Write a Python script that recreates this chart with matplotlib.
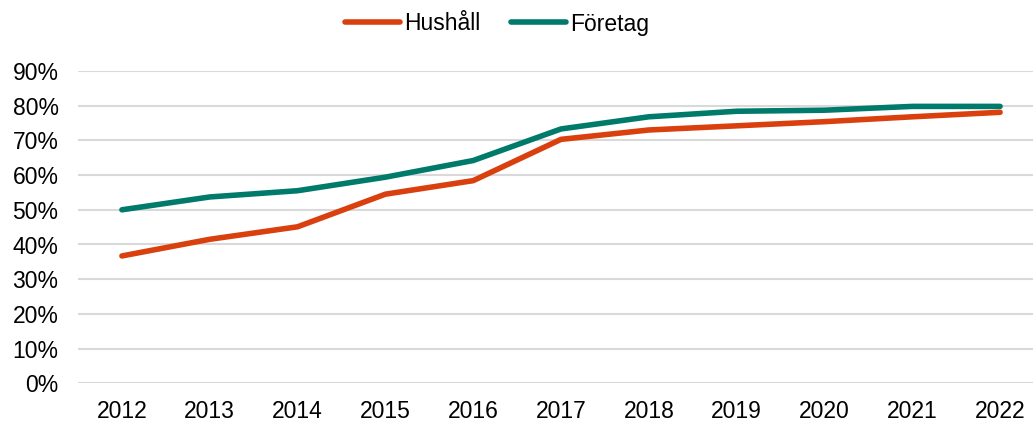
import matplotlib
matplotlib.use("Agg")
import matplotlib.pyplot as plt
from matplotlib.ticker import PercentFormatter

plt.rcParams['font.family'] = ['Liberation Sans', 'DejaVu Sans']

years = ["2012", "2013", "2014", "2015", "2016", "2017", "2018", "2019", "2020", "2021", "2022"]
hushall = [0.367, 0.415, 0.451, 0.545, 0.584, 0.703, 0.730, 0.742, 0.754, 0.768, 0.781]
foretag = [0.500, 0.537, 0.555, 0.594, 0.642, 0.733, 0.768, 0.784, 0.787, 0.798, 0.798]
yticks = [0.0, 0.1, 0.2, 0.3, 0.4, 0.5, 0.6, 0.7, 0.8, 0.9]

W, H = 1033, 423
fig = plt.figure(figsize=(W / 100, H / 100), dpi=100)
left, right = 78, 1044
bottom, top = 383.3, 71
ax = fig.add_axes([left / W, (H - bottom) / H, (right - left) / W, (bottom - top) / H])

x = list(range(len(years)))
ax.plot(x, hushall, color="#D9400E", lw=4, solid_capstyle="round", label="Hushåll", zorder=3)
ax.plot(x, foretag, color="#007A6A", lw=4, solid_capstyle="round", label="Företag", zorder=3)

ax.set_xlim(-0.5, len(years) - 0.5)
ax.set_ylim(0, 0.9)
ax.set_xticks(x)
ax.set_xticklabels(years)
ax.set_yticks(yticks)
ax.yaxis.set_major_formatter(PercentFormatter(1.0, decimals=0))
ax.grid(axis="y", color="#D9D9D9", lw=1.5)
ax.set_axisbelow(True)
for s in ax.spines.values():
    s.set_visible(False)
ax.tick_params(axis="both", length=0, labelsize=16.5, colors="#000000")
ax.tick_params(axis="x", pad=12)
ax.tick_params(axis="y", pad=14)

fig.legend(loc="center", bbox_to_anchor=(497 / W, 1 - 24 / H), ncol=2, frameon=False,
           fontsize=16.5, handlelength=2.4, handletextpad=0.2, columnspacing=1.3)

fig.savefig("out.png", dpi=100)
